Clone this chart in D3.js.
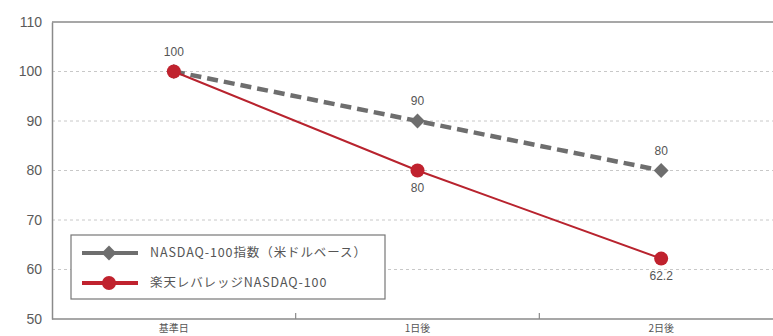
<!DOCTYPE html>
<html><head><meta charset="utf-8">
<script src="https://cdn.jsdelivr.net/npm/d3@7"></script>
<style>body{margin:0;background:#fff;}svg{display:block;font-family:"Noto Sans CJK JP","Noto Sans",sans-serif;}</style>
</head><body>
<svg id="c" width="773" height="336"></svg>
<script>
const categories = ["基準日", "1日後", "2日後"];
const nasdaqValues = [100, 90, 80];
const leveragedValues = [100, 80, 62.2];
const yTicks = [50, 60, 70, 80, 90, 100, 110];
const seriesNames = ["NASDAQ-100指数（米ドルベース）", "楽天レバレッジNASDAQ-100"];

const svg = d3.select("#c");
const mLeft = 52, mTop = 22, mBottom = 319, mRight = 783;
const x = d3.scalePoint().domain(categories).range([mLeft, mRight]).padding(0.5);
const step = x.step();
const y = d3.scaleLinear().domain([50, 110]).range([mBottom, mTop]);

// grid
svg.append("g").selectAll("line").data(yTicks.filter(t => t > 50 && t < 110)).join("line")
  .attr("x1", mLeft).attr("x2", 773).attr("y1", d => y(d)).attr("y2", d => y(d))
  .attr("stroke", "#c8c8c8").attr("stroke-width", 1).attr("stroke-dasharray", "3,3");
// frame top
svg.append("line").attr("x1", mLeft).attr("x2", 773).attr("y1", y(110)).attr("y2", y(110)).attr("stroke", "#8a8a8a").attr("stroke-width", 1.5);
// axes
const yAxis = svg.append("g").attr("transform", `translate(${mLeft},0)`)
  .call(d3.axisLeft(y).tickValues(yTicks).tickSize(0).tickPadding(10));
yAxis.select(".domain").attr("stroke", "#8a8a8a").attr("stroke-width", 1.5);
yAxis.selectAll("text").attr("font-size", 14).attr("fill", "#5a5a5a").attr("font-family", "'Liberation Sans',sans-serif");

svg.append("line").attr("x1", mLeft).attr("x2", 773).attr("y1", mBottom).attr("y2", mBottom).attr("stroke", "#8a8a8a").attr("stroke-width", 1.5);
// category boundary ticks
svg.append("g").selectAll("line").data(categories.slice(1)).join("line")
  .attr("x1", d => x(d) - step / 2).attr("x2", d => x(d) - step / 2)
  .attr("y1", mBottom).attr("y2", mBottom - 6).attr("stroke", "#8a8a8a").attr("stroke-width", 1.2);
svg.append("g").selectAll("text").data(categories).join("text")
  .attr("x", d => x(d)).attr("y", 332).attr("text-anchor", "middle")
  .attr("font-size", 10).attr("fill", "#555").text(d => d);

// lines
const line = d3.line().x((d, i) => x(categories[i])).y(d => y(d));
svg.append("path").datum(nasdaqValues).attr("d", line).attr("fill", "none")
  .attr("stroke", "#6e6e6e").attr("stroke-width", 4.5).attr("stroke-dasharray", "11,6");
svg.append("path").datum(leveragedValues).attr("d", line).attr("fill", "none")
  .attr("stroke", "#b8232e").attr("stroke-width", 2);

const diamond = d3.symbol().type(d3.symbolDiamond2).size(140);
svg.append("g").selectAll("path").data(nasdaqValues).join("path")
  .attr("d", diamond).attr("transform", (d, i) => `translate(${x(categories[i])},${y(d)})`)
  .attr("fill", "#6e6e6e");
svg.append("g").selectAll("circle").data(leveragedValues).join("circle")
  .attr("cx", (d, i) => x(categories[i])).attr("cy", d => y(d)).attr("r", 7)
  .attr("fill", "#c0222e");

// labels
const lbl = (tx, ty, t) => svg.append("text").attr("x", tx).attr("y", ty).attr("text-anchor", "middle")
  .attr("font-size", 12).attr("fill", "#555").attr("font-family", "'Liberation Sans',sans-serif").text(t);
nasdaqValues.forEach((v, i) => lbl(x(categories[i]), y(v) - 16, v));
leveragedValues.forEach((v, i) => { if (i > 0) lbl(x(categories[i]), y(v) + 21, v); });

// legend
const lg = svg.append("g");
lg.append("rect").attr("x", 71).attr("y", 235).attr("width", 314).attr("height", 64)
  .attr("fill", "#fff").attr("stroke", "#777").attr("stroke-width", 1.2);
const rows = [{n: seriesNames[0], c: "#6e6e6e", s: "d"}, {n: seriesNames[1], c: "#c0222e", s: "c"}];
rows.forEach((r, i) => {
  const yy = 253 + i * 30;
  lg.append("line").attr("x1", 82).attr("x2", 138).attr("y1", yy).attr("y2", yy).attr("stroke", r.c).attr("stroke-width", 4);
  if (r.s === "d") lg.append("path").attr("d", diamond).attr("transform", `translate(109,${yy})`).attr("fill", r.c);
  else lg.append("circle").attr("cx", 109).attr("cy", yy).attr("r", 7).attr("fill", r.c);
  lg.append("text").attr("x", 150).attr("y", yy + 4).attr("font-size", 12.5).attr("letter-spacing", 0.9)
    .attr("fill", "#555").text(r.n);
});
</script>
</body></html>
